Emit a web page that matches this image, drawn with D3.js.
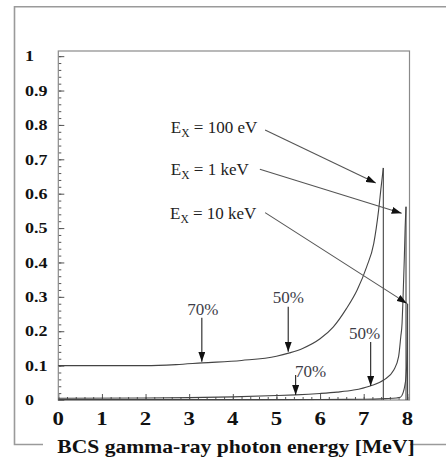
<!DOCTYPE html>
<html>
<head>
<meta charset="utf-8">
<script src="https://cdn.jsdelivr.net/npm/d3@7"></script>
<style>
body { margin: 0; background: #fff; }
svg { display: block; }
svg text { font-family: "Liberation Serif", Tinos, Times, "Nimbus Roman", "DejaVu Serif", serif; }
</style>
</head>
<body>
<svg></svg>
<script>
var width = 446, height = 464;

// curve for E_X = 100 eV
var energy100 = [0, 1, 2, 2.7, 3.3, 4.2, 5.0, 5.3, 5.6, 6.0, 6.3, 6.6, 6.85, 7.07, 7.23, 7.34, 7.40, 7.45];
var frac100 = [0.100, 0.100, 0.100, 0.103, 0.108, 0.115, 0.127, 0.137, 0.150, 0.178, 0.212, 0.265, 0.320, 0.388, 0.455, 0.550, 0.620, 0.675];
// curve for E_X = 1 keV
var energy1k = [0, 2, 3, 4, 5, 5.44, 6.0, 6.39, 6.77, 7.15, 7.46, 7.69, 7.80, 7.85, 7.88, 7.90, 7.93, 7.95, 7.97];
var frac1k = [0.005, 0.006, 0.007, 0.009, 0.013, 0.015, 0.019, 0.023, 0.029, 0.041, 0.058, 0.087, 0.126, 0.184, 0.224, 0.290, 0.407, 0.500, 0.562];
// curve for E_X = 10 keV
var energy10k = [0, 3, 6, 7.0, 7.5, 7.75, 7.84, 7.90, 7.94, 7.97, 7.99, 8.0, 8.005];
var frac10k = [0.001, 0.001, 0.0015, 0.002, 0.004, 0.006, 0.008, 0.020, 0.040, 0.070, 0.120, 0.200, 0.280];

var curveNames = ["100 eV", "1 keV", "10 keV"];

var xTicks = [0, 1, 2, 3, 4, 5, 6, 7, 8];
var xTickLabels = ["0", "1", "2", "3", "4", "5", "6", "7", "8"];
var yTicks = [0, 0.1, 0.2, 0.3, 0.4, 0.5, 0.6, 0.7, 0.8, 0.9, 1];
var yTickLabels = ["0", "0.1", "0.2", "0.3", "0.4", "0.5", "0.6", "0.7", "0.8", "0.9", "1"];

// percentage markers: energy and value where the arrow lands
var pctLabels = ["70%", "50%", "70%", "50%"];
var pctEnergy = [3.29, 5.27, 5.44, 7.16];
var pctValue = [0.111, 0.140, 0.0145, 0.041];

var svg = d3.select("svg")
    .attr("width", width)
    .attr("height", height);

var x = d3.scaleLinear().domain([0, 8.05]).range([58.3, 409.5]);
var y = d3.scaleLinear().domain([0, 1.015]).range([400, 51]);

var defs = svg.append("defs");
defs.append("marker")
    .attr("id", "head")
    .attr("viewBox", "0 0 10 7")
    .attr("refX", 10).attr("refY", 3.5)
    .attr("markerWidth", 10).attr("markerHeight", 7)
    .attr("markerUnits", "userSpaceOnUse")
    .attr("orient", "auto")
    .append("path")
    .attr("d", "M0,0L10,3.5L0,7Z")
    .attr("fill", "#111");

// outer frame, broken by the title
svg.append("path")
    .attr("d", "M43,444.5H14.5V6.8H450 M410,444.5H450")
    .attr("fill", "none")
    .attr("stroke", "#9a9a9a")
    .attr("stroke-width", 1.6);

// axes (ticks only, pointing inward)
function styleAxis(g) {
    g.select(".domain").remove();
    g.selectAll("line").attr("stroke", "#555").attr("stroke-width", 1);
}

svg.append("g")
    .attr("transform", "translate(0,400)")
    .call(d3.axisBottom(x).tickValues(d3.range(0, 8.05, 0.2)).tickSize(-3).tickFormat(""))
    .call(styleAxis);
svg.append("g")
    .attr("transform", "translate(0,400)")
    .call(d3.axisBottom(x).tickValues(xTicks).tickSize(-6).tickFormat(""))
    .call(styleAxis);
svg.append("g")
    .attr("transform", "translate(58.3,0)")
    .call(d3.axisLeft(y).tickValues(d3.range(0, 1.015, 0.02)).tickSize(-3).tickFormat(""))
    .call(styleAxis);
svg.append("g")
    .attr("transform", "translate(58.3,0)")
    .call(d3.axisLeft(y).tickValues(yTicks).tickSize(-6).tickFormat(""))
    .call(styleAxis);

// plot border
svg.append("rect")
    .attr("x", x(0)).attr("y", y(1.015))
    .attr("width", x(8.05) - x(0))
    .attr("height", y(0) - y(1.015))
    .attr("fill", "none")
    .attr("stroke", "#8a8a8a")
    .attr("stroke-width", 1.2);

// tick labels
svg.append("g").selectAll("text")
    .data(xTicks)
    .enter().append("text")
    .attr("transform", function(d) { return "translate(" + x(d) + ",418) scale(1.2,1)"; })
    .attr("dy", "0.35em")
    .attr("text-anchor", "middle")
    .attr("font-weight", "bold")
    .attr("font-size", 19)
    .attr("fill", "#111")
    .text(function(d, i) { return xTickLabels[i]; });

svg.append("g").selectAll("text")
    .data(yTicks)
    .enter().append("text")
    .attr("transform", function(d) { return "translate(25," + y(d) + ") scale(1.2,1)"; })
    .attr("dy", "0.35em")
    .attr("text-anchor", "start")
    .attr("font-weight", "bold")
    .attr("font-size", 15)
    .attr("fill", "#111")
    .text(function(d, i) { return yTickLabels[i]; });

// title
svg.append("text")
    .attr("transform", "translate(236,453) scale(1.2,1)")
    .attr("text-anchor", "middle")
    .attr("font-weight", "bold")
    .attr("font-size", 18)
    .attr("fill", "#111")
    .text("BCS gamma-ray photon energy [MeV]");

// curves
var curves = [
    { xs: energy100, ys: frac100 },
    { xs: energy1k, ys: frac1k },
    { xs: energy10k, ys: frac10k }
];

var line = d3.line()
    .x(function(d) { return x(d[0]); })
    .y(function(d) { return y(d[1]); })
    .curve(d3.curveMonotoneX);

curves.forEach(function(c) {
    var pts = c.xs.map(function(v, i) { return [v, c.ys[i]]; });
    var last = pts[pts.length - 1];
    svg.append("path")
        .attr("d", line(pts))
        .attr("fill", "none")
        .attr("stroke", "#444")
        .attr("stroke-width", 1.1);
    // sharp edge back down to zero
    svg.append("line")
        .attr("x1", x(last[0])).attr("x2", x(last[0]))
        .attr("y1", y(last[1])).attr("y2", y(0))
        .attr("stroke", "#444")
        .attr("stroke-width", 1.1);
});

// E_X labels with arrows to the edges
var labelAt = [[2.58, 0.777], [2.58, 0.654], [2.56, 0.526]];
var arrowFrom = [[4.74, 0.785], [4.62, 0.671], [4.74, 0.545]];
var arrowTo = [[7.28, 0.631], [7.87, 0.543], [7.99, 0.281]];

curveNames.forEach(function(name, i) {
    var t = svg.append("text")
        .attr("x", x(labelAt[i][0]))
        .attr("y", y(labelAt[i][1]))
        .attr("font-size", 17)
        .attr("fill", "#222");
    t.append("tspan").text("E");
    t.append("tspan").attr("font-size", 11.5).attr("dy", 4).text("X");
    t.append("tspan").attr("dy", -4).text(" = " + name);

    svg.append("line")
        .attr("x1", x(arrowFrom[i][0])).attr("y1", y(arrowFrom[i][1]))
        .attr("x2", x(arrowTo[i][0])).attr("y2", y(arrowTo[i][1]))
        .attr("stroke", "#555")
        .attr("stroke-width", 1.1)
        .attr("marker-end", "url(#head)");
});

// percentage arrows
var arrowLen = [44, 45, 20, 44];
var textDx = [1, 0, 15, -6];
var textDy = [-9, -10, -4, -9];

pctLabels.forEach(function(lbl, i) {
    var px = x(pctEnergy[i]), py = y(pctValue[i]);
    svg.append("line")
        .attr("x1", px).attr("x2", px)
        .attr("y1", py - arrowLen[i]).attr("y2", py)
        .attr("stroke", "#222")
        .attr("stroke-width", 1.1)
        .attr("marker-end", "url(#head)");
    svg.append("text")
        .attr("x", px + textDx[i])
        .attr("y", py - arrowLen[i] + textDy[i])
        .attr("dy", "0.35em")
        .attr("text-anchor", "middle")
        .attr("font-size", 17)
        .attr("fill", "#3d3d48")
        .text(lbl);
});
</script>
</body>
</html>
